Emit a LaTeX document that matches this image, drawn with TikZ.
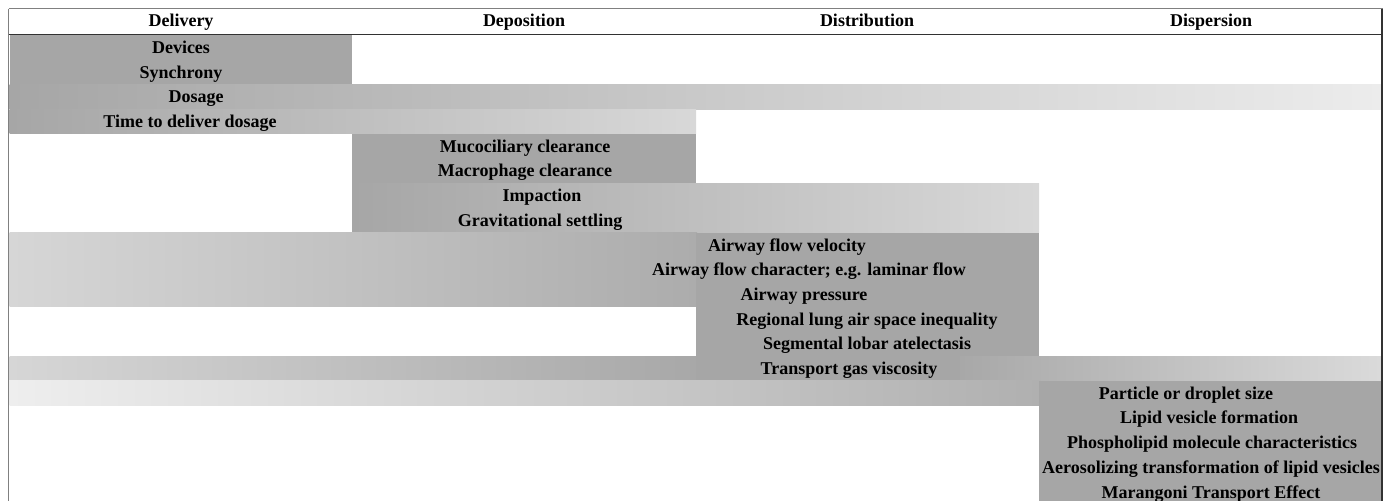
\documentclass[tikz,border=0pt]{standalone}
\usepackage{fontspec}
\setmainfont{Liberation Serif}
\definecolor{dk}{RGB}{166,166,166}
\definecolor{frameline}{RGB}{128,128,128}
\definecolor{ruleline}{RGB}{50,50,50}
\begin{document}
\begin{tikzpicture}[x=0.5pt,y=-0.5pt,
  lbl/.style={font=\bfseries\fontsize{9}{10}\selectfont, inner sep=0pt, anchor=base, text=black},
  dkfill/.style={fill=dk}]
\useasboundingbox (0,0) rectangle (1392,501);
\fill[white] (0,0) rectangle (1392,501);
% ---- bars ----
% Devices / Synchrony
\fill[dkfill] (9.5,35) rectangle (352,84.4);
% Dosage
\fill[left color=dk, right color={rgb,255:red,236;green,236;blue,236}] (9.5,84.4) rectangle (1381,109.1);
% Time to deliver dosage
\fill[left color=dk, right color={rgb,255:red,216;green,216;blue,216}] (9.5,109.1) rectangle (696,133.8);
% Mucociliary / Macrophage
\fill[dkfill] (352,133.8) rectangle (696,183.2);
% Impaction / Gravitational
\fill[left color=dk, right color={rgb,255:red,216;green,216;blue,216}] (352,183.2) rectangle (1039,232.6);
% Airway rows
\fill[left color={rgb,255:red,214;green,214;blue,214}, right color={rgb,255:red,172;green,172;blue,172}] (9.5,232.6) rectangle (697,306.7);
\fill[dkfill] (696,232.6) rectangle (1039,306.7);
% Regional / Segmental
\fill[dkfill] (696,306.7) rectangle (1039,356.1);
% Transport gas viscosity
\fill[left color={rgb,255:red,214;green,214;blue,214}, right color={rgb,255:red,168;green,168;blue,168}] (9.5,356.1) rectangle (697,380.8);
\fill[dkfill] (696,356.1) rectangle (961,380.8);
\fill[left color={rgb,255:red,168;green,168;blue,168}, right color={rgb,255:red,218;green,218;blue,218}] (960,356.1) rectangle (1381,380.8);
% Particle or droplet size
\fill[left color={rgb,255:red,238;green,238;blue,238}, right color={rgb,255:red,176;green,176;blue,176}] (9.5,380.8) rectangle (1040,405.5);
\fill[dkfill] (1039,380.8) rectangle (1381,405.5);
% Dispersion block
\fill[dkfill] (1039,405.5) rectangle (1381,501);
% ---- frame ----
\draw[frameline, line width=0.5pt] (8.5,9) -- (1383,9);
\draw[frameline, line width=0.75pt] (8.5,9) -- (8.5,501);
\draw[ruleline, line width=0.75pt] (8.5,34.3) -- (1383,34.3);
\draw[ruleline, line width=1pt] (1382,9) -- (1382,501);
% ---- header ----
\node[lbl] (hDel) at (181,27) {Delivery};
\node[lbl] (hDep) at (524,27) {Deposition};
\node[lbl] (hDis) at (867,27) {Distribution};
\node[lbl] (hDsp) at (1211,27) {Dispersion};
% ---- row labels ----
\node[lbl] (r0) at (181,53.5) {Devices};
\node[lbl] (r1) at (181,78.2) {Synchrony};
\node[lbl] (r2) at (196,102.9) {Dosage};
\node[lbl] (r3) at (190,127.6) {Time to deliver dosage};
\node[lbl] (r4) at (525,152.3) {Mucociliary clearance};
\node[lbl] (r5) at (525,177) {Macrophage clearance};
\node[lbl] (r6) at (542,201.7) {Impaction};
\node[lbl] (r7) at (540,226.4) {Gravitational settling};
\node[lbl] (r8) at (787,251.1) {Airway flow velocity};
\node[lbl] (r9) at (809,275.8) {Airway flow character; e.g. laminar flow};
\node[lbl] (r10) at (804,300.5) {Airway pressure};
\node[lbl] (r11) at (867,325.2) {Regional lung air space inequality};
\node[lbl] (r12) at (867,349.9) {Segmental lobar atelectasis};
\node[lbl] (r13) at (849,374.6) {Transport gas viscosity};
\node[lbl] (r14) at (1186,399.3) {Particle or droplet size};
\node[lbl] (r15) at (1209,424) {Lipid vesicle formation};
\node[lbl] (r16) at (1212,448.7) {Phospholipid molecule characteristics};
\node[lbl] (r17) at (1211,473.4) {Aerosolizing transformation of lipid vesicles};
\node[lbl] (r18) at (1211,498.1) {Marangoni Transport Effect};
\end{tikzpicture}
\end{document}
